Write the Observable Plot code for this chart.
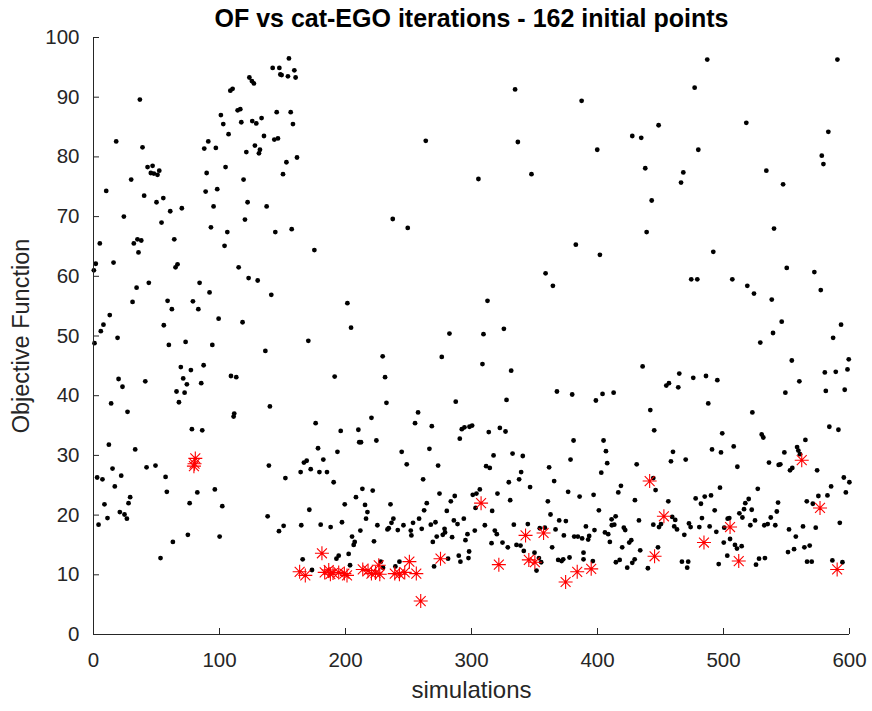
<!DOCTYPE html>
<html>
<head>
<meta charset="utf-8">
<script src="https://cdn.jsdelivr.net/npm/d3@7"></script>
<script src="https://cdn.jsdelivr.net/npm/@observablehq/plot@0.6"></script>
<style>
  html, body { margin: 0; padding: 0; background: #fff; }
  #chart { width: 872px; height: 711px; }
</style>
</head>
<body>
<div id="chart"></div>
<script>
// Axis ticks
const xTicks = [0, 100, 200, 300, 400, 500, 600];
const yTicks = [0, 10, 20, 30, 40, 50, 60, 70, 80, 90, 100];

// Every simulation run: [simulation, objective function]
const runs = [
  [10.1,74.3],[24.1,70.0],[18.0,82.6],[36.8,89.6],[38.9,81.6],[29.9,76.2],[40.2,73.5],
  [42.9,78.3],[46.9,78.5],[45.5,77.3],[47.9,77.2],[50.8,77.0],[52.2,77.7],
  [50.0,72.4],[55.4,73.1],[60.9,70.9],[70.1,71.4],[54.0,69.0],
  [87.9,81.4],[91.1,82.6],[97.1,81.5],[89.8,77.3],[89.0,74.2],[98.2,74.6],[95.3,71.7],[93.2,68.2],[106.2,67.4],[104.8,78.3],
  [101.1,87.0],[103.0,85.5],[107.2,83.8],[108.6,91.1],[110.4,91.4],[114.4,87.8],[116.5,88.0],[117.3,85.8],
  [123.7,93.3],[125.7,92.7],[127.3,92.3],[126.0,86.0],[129.2,85.6],[133.4,86.5],[135.3,83.5],
  [128.1,81.9],[132.1,81.2],[131.3,80.6],[121.3,80.8],[119.1,76.2],[122.3,72.4],[137.4,71.7],[120.2,69.5],
  [142.2,94.9],[147.5,94.9],[148.3,93.8],[145.4,87.5],[143.5,82.9],[146.4,83.1],[144.3,67.4],
  [155.1,96.5],[149.3,93.7],[154.3,93.5],[159.4,94.5],[160.4,93.3],[156.5,87.5],[158.3,85.5],[161.5,79.9],
  [153.1,79.1],[150.4,77.1],[157.3,67.9],[263.7,82.7],[237.5,69.6],[249.4,68.1],
  [334.6,91.3],[387.4,89.4],[336.8,82.5],[399.8,81.2],[427.6,83.5],[434.7,83.2],[448.5,85.3],[305.5,76.3],
  [347.6,77.1],[437.9,78.1],[443.0,72.7],[439.0,67.4],
  [487.1,96.3],[590.4,96.3],[477.1,91.6],[518.1,85.7],[583.2,84.2],[480.0,81.2],[468.1,77.4],[466.3,75.7],
  [534.0,77.7],[547.3,75.4],[578.0,80.2],[579.3,78.8],[540.1,68.0],
  [5.0,65.5],[1.8,62.1],[0.3,61.0],[15.9,62.3],[32.0,65.5],[34.9,66.2],[37.9,66.0],[35.7,64.0],[64.1,66.2],[65.1,61.5],[66.7,62.0],
  [104.0,65.1],[115.2,61.5],[123.1,59.7],[130.3,59.3],[141.1,56.9],[43.9,58.9],[34.2,58.1],[31.0,55.7],[12.9,53.5],
  [7.9,51.9],[5.8,50.8],[19.1,49.7],[0.8,48.8],
  [58.8,55.9],[62.2,54.5],[55.8,51.8],[59.8,48.5],[73.1,49.0],[78.9,55.8],[83.2,54.5],[84.2,58.9],[92.1,57.3],
  [99.3,52.9],[118.3,52.3],[94.3,48.5],[136.4,47.5],
  [69.3,44.8],[77.3,44.3],[87.4,45.1],[71.2,42.9],[74.1,41.9],[85.5,42.1],[65.9,40.7],[72.3,40.5],[67.8,38.9],
  [109.1,43.3],[113.3,43.1],
  [19.9,42.8],[23.0,41.5],[41.1,42.4],[14.0,38.7],[27.0,37.3],[111.7,37.0],[111.2,36.5],[140.0,38.2],[78.1,34.4],[86.3,34.2],
  [175.3,64.4],[201.5,55.5],[204.4,51.4],[170.5,49.2],[282.5,50.4],[229.5,46.6],[276.4,46.5],[191.4,43.2],
  [231.4,43.1],[232.5,38.8],[287.5,39.0],[257.6,37.2],[220.6,36.3],[176.3,35.4],[255.2,35.4],[268.5,34.9],
  [196.2,34.1],[210.2,34.3],[292.3,34.4],[294.4,34.7],[298.4,34.8],
  [382.8,65.3],[401.9,63.6],[358.8,60.5],[364.6,58.4],[312.7,55.9],[325.7,51.2],[309.5,50.3],[308.7,45.3],
  [331.5,44.2],[435.8,44.9],[367.8,40.7],[379.9,40.2],[404.0,40.3],[412.8,40.5],[398.7,39.2],[327.8,39.3],
  [441.9,37.6],[300.5,35.0],[313.7,33.9],[322.5,34.6],[327.0,34.0],[445.0,34.2],
  [491.9,64.1],[550.2,61.4],[572.1,60.7],[577.2,57.7],[474.4,59.5],[479.2,59.5],[507.0,59.5],[518.9,58.4],
  [524.2,57.1],[538.3,56.1],[546.2,52.4],[539.3,50.5],[529.2,48.9],[593.3,51.9],[587.0,49.7],[554.2,45.9],
  [599.4,46.1],[580.4,43.9],[589.1,44.0],[598.4,44.4],[560.2,42.4],[549.1,40.5],[581.2,40.8],[596.2,41.0],
  [464.9,43.7],[476.0,43.0],[486.1,43.3],[495.1,42.6],[454.6,41.7],[456.7,42.1],[464.1,41.4],[487.9,38.7],
  [522.9,37.2],[499.0,33.7],[530.3,33.5],[584.0,34.8],[591.2,34.3],
  [12.2,31.8],[33.1,31.0],[15.1,27.8],[22.0,26.6],[2.9,26.3],[7.1,26.0],[16.9,24.8],[42.1,28.0],[49.2,28.3],
  [57.2,26.4],[58.2,23.9],[139.2,28.3],[8.7,21.8],[27.8,22.0],[29.1,23.0],[20.9,20.5],[24.6,20.1],[26.5,19.4],
  [11.1,19.5],[4.0,18.4],[76.3,22.0],[82.4,23.8],[96.3,24.3],[102.2,21.5],[138.2,19.8],[147.2,17.3],[74.9,16.7],
  [63.0,15.5],[100.1,16.4],[53.2,12.8],
  [210.9,32.2],[212.3,32.2],[224.5,32.5],[178.2,31.2],[193.6,30.6],[167.0,28.8],[169.2,29.1],[182.4,29.3],
  [164.4,27.2],[172.4,27.7],[179.3,27.2],[185.3,27.2],[152.3,26.2],[190.6,25.5],
  [244.6,30.6],[248.6,28.5],[266.6,31.1],[273.5,28.3],[261.6,26.0],[290.7,32.8],
  [213.4,24.4],[221.6,24.1],[208.3,23.0],[199.4,21.8],[215.5,21.7],[217.4,20.5],[216.3,19.4],
  [235.7,21.8],[264.5,22.0],[262.4,20.8],[274.6,23.6],[280.4,20.7],[283.6,22.3],[286.7,23.2],[171.3,20.9],
  [197.2,18.8],[225.3,18.3],[238.0,19.4],[236.5,18.7],[234.3,17.8],[233.3,17.6],[241.5,17.5],[246.0,18.3],
  [253.6,18.7],[258.4,19.4],[251.8,17.4],[252.3,16.6],[260.5,17.7],
  [150.9,18.2],[164.9,18.3],[180.3,18.4],[188.2,18.0],
  [211.8,17.4],[205.2,16.4],[207.3,15.5],[206.5,15.0],[222.6,15.6],
  [267.7,18.4],[271.4,18.8],[278.6,17.7],[279.0,17.1],[277.2,16.7],[272.4,16.4],[269.3,15.5],[284.6,16.3],
  [293.9,19.4],[288.9,18.5],[286.0,19.1],[296.8,16.8],[295.2,15.8],[298.1,13.9],[297.6,12.8],[291.2,12.2],
  [289.9,13.2],[281.4,12.7],
  [166.0,12.6],[173.4,10.8],[192.8,12.7],[194.6,13.2],[202.5,13.5],[203.6,11.6],[228.0,12.2],[229.8,11.2],
  [242.8,12.2],[239.6,11.4],[270.3,11.4],
  [381.0,32.5],[404.8,32.5],[406.7,30.7],[407.7,28.7],[403.0,27.1],[378.6,29.3],[317.5,30.0],[332.6,30.3],
  [340.7,29.9],[311.6,28.2],[314.5,27.9],[361.6,28.0],
  [339.4,27.2],[337.8,26.0],[329.6,25.5],[365.6,25.7],[346.5,24.7],
  [431.1,28.5],[418.6,24.9],[416.5,23.8],[429.7,22.5],[376.7,23.9],[385.8,23.1],[396.9,23.4],[360.6,22.3],
  [301.0,23.4],[303.9,23.6],[306.6,24.3],[303.2,21.2],[320.6,23.6],[330.7,22.5],[316.4,20.7],[401.1,20.8],[362.7,20.1],
  [411.2,19.3],[414.4,19.8],[413.3,18.4],[411.4,18.3],[420.9,17.9],[422.0,17.5],[432.9,19.1],[444.3,18.4],
  [448.8,18.0],[446.1,24.2],[444.3,26.2],
  [369.6,19.1],[374.9,19.0],[366.7,17.6],[390.8,18.1],[397.6,17.5],[333.6,18.4],[344.7,18.5],[310.6,18.3],
  [302.6,17.4],[318.5,17.4],[320.1,16.8],[358.2,17.9],[354.2,17.8],
  [381.5,16.4],[384.4,16.4],[387.8,16.1],[393.4,16.5],[392.6,15.9],[373.3,16.6],[405.9,17.1],[408.5,16.8],
  [409.8,15.5],[426.8,15.8],[425.2,15.4],
  [315.9,15.3],[324.6,15.4],[328.8,14.6],[335.7,15.0],[338.9,14.9],[364.0,14.6],[388.9,13.7],[419.6,14.6],
  [433.9,14.1],[448.0,14.6],
  [341.5,14.0],[350.0,13.7],[353.5,12.8],[355.3,12.1],[351.6,10.7],[368.8,12.5],[372.8,12.6],[377.8,12.9],
  [371.5,12.3],[396.3,12.3],[388.9,12.6],
  [414.6,12.1],[417.6,12.5],[423.6,11.2],[427.6,12.0],[429.5,12.6],[440.0,11.1],
  [531.6,33.0],[565.0,32.6],
  [459.9,30.6],[458.3,29.0],[470.0,29.3],[490.9,31.0],[498.0,30.5],[508.1,31.5],[511.0,28.1],
  [548.3,30.5],[558.4,31.4],[559.4,30.8],[560.7,30.2],[536.1,28.8],[543.8,28.4],[545.1,28.5],[552.8,27.5],
  [554.6,27.9],[574.3,27.5],
  [595.5,26.3],[599.9,25.5],[597.1,23.8],[585.4,24.8],[582.5,23.3],[575.3,23.2],[566.1,22.3],[570.9,21.9],
  [497.2,24.6],[527.2,24.4],
  [456.2,22.3],[477.9,22.8],[482.1,21.9],[485.1,23.1],[490.1,23.3],
  [493.0,20.8],[482.9,19.5],[480.8,18.0],[489.0,18.1],[494.3,17.2],[500.6,17.9],[503.3,19.4],[504.6,19.5],
  [450.4,18.5],[459.3,19.7],[461.7,19.2],[460.9,18.1],[463.1,17.6],[468.9,16.7],[472.6,18.6],[473.9,18.0],
  [517.3,22.0],[520.0,22.7],[516.3,21.0],[522.4,20.9],[512.6,20.3],[515.0,19.6],[525.0,19.1],[521.3,18.3],
  [532.4,18.3],[535.1,18.5],[541.1,18.3],
  [543.3,22.1],[542.3,20.6],[537.5,19.6],
  [563.1,18.1],[573.2,17.9],[552.0,17.6],[557.4,16.4],[592.3,18.7],
  [500.2,15.4],[505.2,16.0],[509.1,15.0],[510.7,14.4],[514.4,14.8],[503.0,13.2],[496.2,11.8],
  [467.0,12.2],[472.0,12.2],[471.2,11.2],[528.2,12.7],[532.9,12.8],[525.8,11.7],
  [556.0,14.3],[551.2,13.8],[564.2,14.6],[568.4,14.9],[566.3,12.2],[570.0,12.2],[586.4,12.4],[594.4,12.1]
];

// cat-EGO iterations: [simulation, objective function]
const egoPoints = [
  [80.8,29.5],[80.2,28.6],[79.7,28.2],
  [181.3,13.6],[163.6,10.5],[168.1,9.9],[183.5,10.4],[186.7,10.8],[188.0,10.1],[190.1,10.3],[194.6,10.4],
  [199.1,10.2],[201.2,9.9],[213.7,10.9],[217.9,10.7],[220.6,10.2],[223.8,10.3],[226.4,11.6],[227.2,10.1],
  [239.1,10.2],[242.8,10.1],[247.0,10.4],[250.7,12.2],[256.2,10.2],[259.7,5.6],[275.4,12.7],
  [307.6,22.0],[321.7,11.7],[342.9,16.6],[357.2,17.0],[345.5,12.5],[350.3,12.1],[374.7,8.8],[383.9,10.5],
  [395.0,11.0],[441.4,25.7],[445.3,13.1],
  [452.7,19.8],[484.5,15.4],[505.2,18.0],[512.1,12.3],[562.1,29.2],[576.6,21.2],[590.2,10.9]
];

const titleText = "OF vs cat-EGO iterations - 162 initial points";
const xLabel = "simulations";
const yLabel = "Objective Function";

// Eight-armed asterisk marker (plus overlaid with a cross)
const asterisk = {
  draw(context, size) {
    const r = Math.sqrt(size / Math.PI);
    const d = r * Math.SQRT1_2;
    context.moveTo(-r, 0); context.lineTo(r, 0);
    context.moveTo(0, -r); context.lineTo(0, r);
    context.moveTo(-d, -d); context.lineTo(d, d);
    context.moveTo(-d, d); context.lineTo(d, -d);
  }
};

const W = 872, H = 711;
const mTop = 37, mRight = 23, mBottom = 77, mLeft = 93;
const plotW = W - mLeft - mRight, plotH = H - mTop - mBottom;
const axisColor = "#262626";
const font = "'Liberation Sans', Arial, Helvetica, sans-serif";

const chart = Plot.plot({
  width: W,
  height: H,
  marginTop: mTop,
  marginRight: mRight,
  marginBottom: mBottom,
  marginLeft: mLeft,
  style: { fontFamily: font, background: "#fff", overflow: "visible" },
  x: { domain: [0, 600] },
  y: { domain: [0, 100] },
  marks: [
    Plot.dot(runs, { x: d => d[0], y: d => d[1], r: 2.4, fill: "#000", stroke: "none" }),
    Plot.dot(egoPoints, { x: d => d[0], y: d => d[1], r: 7, symbol: asterisk, fill: "none", stroke: "#ff0000", strokeWidth: 1.1 }),
    // inward tick marks
    Plot.tickX(xTicks, { x: d => d, insetTop: plotH - 6, stroke: axisColor }),
    Plot.tickY(yTicks, { y: d => d, insetRight: plotW - 6, stroke: axisColor }),
    // axis lines
    Plot.ruleX([0], { stroke: axisColor }),
    Plot.ruleY([0], { stroke: axisColor }),
    Plot.axisX(xTicks, { tickSize: 0, tickPadding: 18, fontSize: 20.5, fill: axisColor, label: null }),
    Plot.axisY(yTicks, { tickSize: 0, tickPadding: 14, fontSize: 20.5, fill: axisColor, label: null }),
    Plot.text([xLabel], { frameAnchor: "bottom", dy: 56, lineAnchor: "middle", textAnchor: "middle", fontSize: 24, fill: axisColor }),
    Plot.text([yLabel], { frameAnchor: "left", dx: -72, rotate: -90, lineAnchor: "middle", textAnchor: "middle", fontSize: 23.5, fill: axisColor }),
    Plot.text([titleText], { frameAnchor: "top", dy: -19, lineAnchor: "middle", textAnchor: "middle", fontSize: 25, fontWeight: "bold", fill: "#000" })
  ]
});

document.getElementById("chart").appendChild(chart);
</script>
</body>
</html>
